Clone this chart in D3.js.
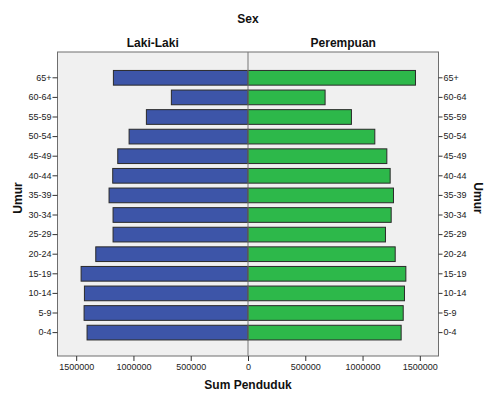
<!DOCTYPE html>
<html>
<head>
<meta charset="utf-8">
<script src="https://cdn.jsdelivr.net/npm/d3@7"></script>
<style>
  body { margin: 0; background: #fff; }
  text { font-family: "Liberation Sans", Arial, sans-serif; }
</style>
</head>
<body>
<div id="chart"></div>
<script>
var ageGroups = ["65+","60-64","55-59","50-54","45-49","40-44","35-39","30-34","25-29","20-24","15-19","10-14","5-9","0-4"];
var lakiLaki = [1175000, 669000, 887000, 1038000, 1137000, 1181000, 1213000, 1178000, 1178000, 1329000, 1457000, 1428000, 1431000, 1405000];
var perempuan = [1462000, 673000, 903000, 1107000, 1212000, 1241000, 1270000, 1250000, 1200000, 1285000, 1378000, 1366000, 1355000, 1337000];
var xTicks = [0, 500000, 1000000, 1500000];

var width = 493, height = 394;
var panelTop = 52, panelBottom = 356;
var left = 57.5, mid = 248, right = 438.5;
var maxVal = 1663000;

var svg = d3.select('#chart').append('svg')
  .attr('width', width).attr('height', height);

var yScale = d3.scaleBand()
  .domain(ageGroups)
  .range([68, 342.4])
  .paddingInner(0.25)
  .paddingOuter(0.125);

var xLeft = d3.scaleLinear().domain([0, maxVal]).range([mid, left]);
var xRight = d3.scaleLinear().domain([0, maxVal]).range([mid, right]);

// panel backgrounds
svg.append('rect')
  .attr('x', left).attr('y', panelTop)
  .attr('width', right - left).attr('height', panelBottom - panelTop)
  .attr('fill', '#f0f0f0').attr('stroke', '#6e6e6e').attr('stroke-width', 1);

var rowsL = ageGroups.map(function(a, i) { return {age: a, v: lakiLaki[i]}; });
var rowsR = ageGroups.map(function(a, i) { return {age: a, v: perempuan[i]}; });

svg.append('g').selectAll('rect')
  .data(rowsL).join('rect')
  .attr('x', d => xLeft(d.v))
  .attr('y', d => yScale(d.age))
  .attr('width', d => mid - xLeft(d.v))
  .attr('height', yScale.bandwidth())
  .attr('fill', '#3d55a8').attr('stroke', '#2a2a2a').attr('stroke-width', 1);

svg.append('g').selectAll('rect')
  .data(rowsR).join('rect')
  .attr('x', mid)
  .attr('y', d => yScale(d.age))
  .attr('width', d => xRight(d.v) - mid)
  .attr('height', yScale.bandwidth())
  .attr('fill', '#2db84a').attr('stroke', '#2a2a2a').attr('stroke-width', 1);

// center line
svg.append('line')
  .attr('x1', mid).attr('x2', mid)
  .attr('y1', panelTop).attr('y2', panelBottom)
  .attr('stroke', '#777').attr('stroke-width', 1);

function styleAxis(g) {
  g.select('.domain').remove();
  g.selectAll('.tick line').attr('stroke', '#333');
  g.selectAll('.tick text').attr('fill', '#222').style('font-size', '9px')
    .style('font-family', '"Liberation Sans", Arial, sans-serif');
}

svg.append('g')
  .attr('transform', `translate(${left},0)`)
  .call(d3.axisLeft(yScale).tickSize(5).tickPadding(1))
  .call(styleAxis);

svg.append('g')
  .attr('transform', `translate(${right},0)`)
  .call(d3.axisRight(yScale).tickSize(4).tickPadding(1))
  .call(styleAxis);

svg.append('g')
  .attr('transform', `translate(0,${panelBottom})`)
  .call(d3.axisBottom(xLeft).tickValues(xTicks).tickFormat(d3.format('d')).tickSize(5).tickPadding(3))
  .call(styleAxis);

svg.append('g')
  .attr('transform', `translate(0,${panelBottom})`)
  .call(d3.axisBottom(xRight).tickValues(xTicks.slice(1)).tickFormat(d3.format('d')).tickSize(5).tickPadding(3))
  .call(styleAxis);

// titles
function label(x, y, t, size, rot) {
  var el = svg.append('text')
    .attr('text-anchor', 'middle')
    .attr('font-weight', 'bold')
    .style('font-size', size + 'px')
    .attr('fill', '#111')
    .text(t);
  if (rot) el.attr('transform', `translate(${x},${y}) rotate(${rot})`);
  else el.attr('x', x).attr('y', y);
}
label(248, 23, 'Sex', 12);
label((left + mid) / 2, 47, 'Laki-Laki', 12);
label((mid + right) / 2, 47, 'Perempuan', 12);
label(248, 389, 'Sum Penduduk', 12);
label(22, 198, 'Umur', 12, -90);
label(474, 198, 'Umur', 12, 90);
</script>
</body>
</html>
